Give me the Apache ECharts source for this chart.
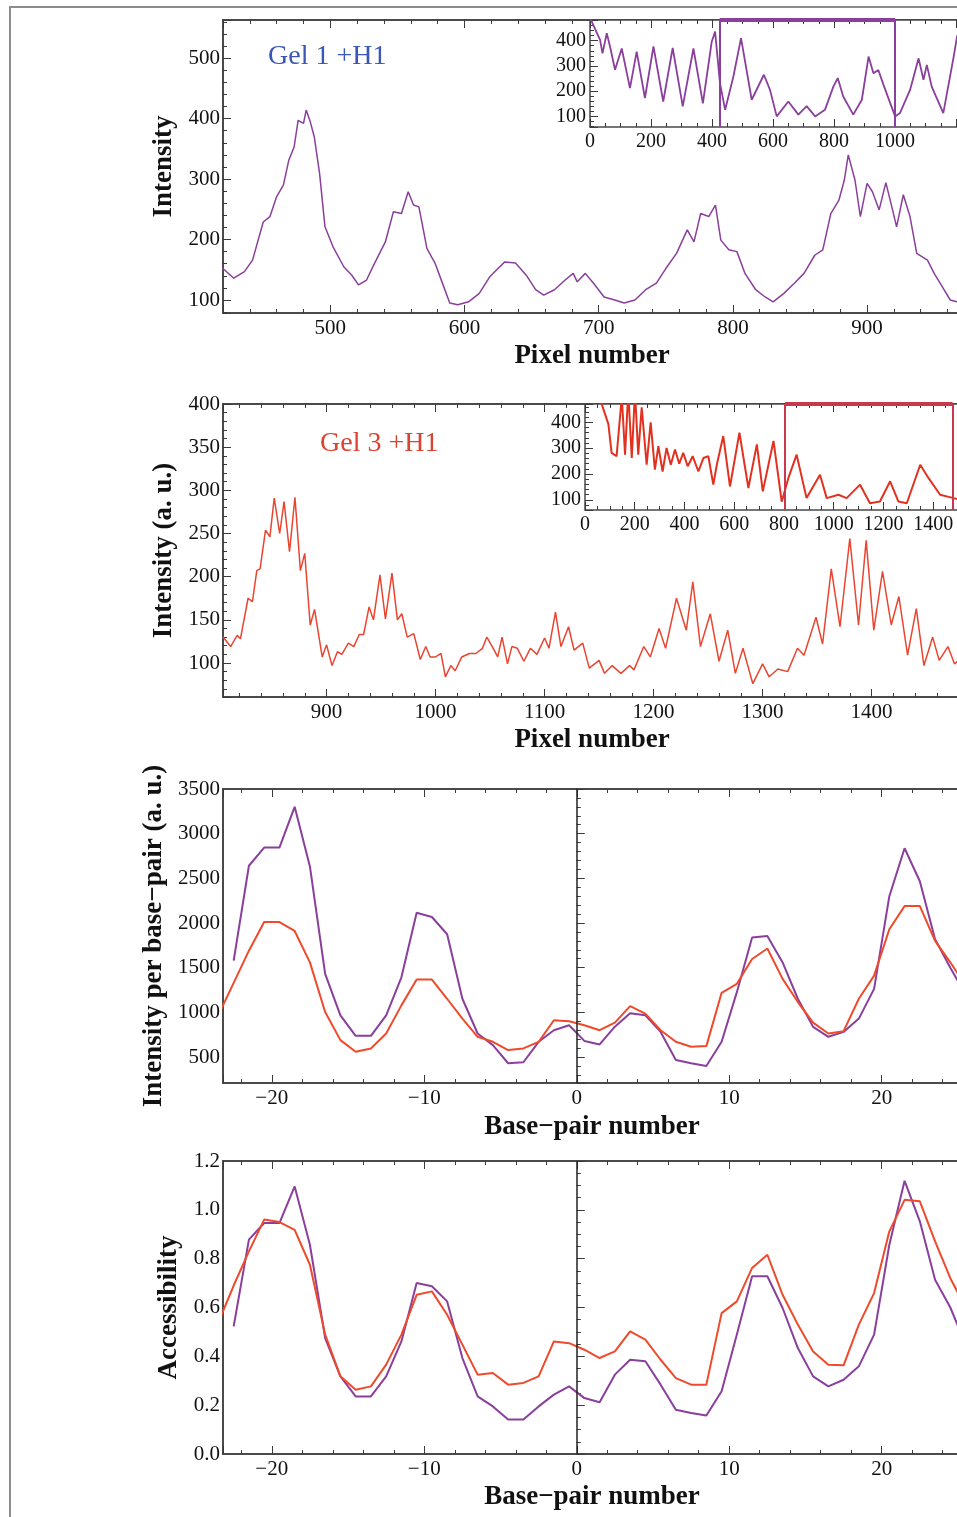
<!DOCTYPE html>
<html>
<head>
<meta charset="utf-8">
<script src="https://cdn.jsdelivr.net/npm/echarts@6/dist/echarts.min.js"></script>
<style>
html,body{margin:0;padding:0;background:#fff;}
#chart{width:957px;height:1517px;}
</style>
</head>
<body>
<div id="chart"></div>
<script>
// ---------- Data ----------
// Panel 1: Gel 1 +H1 (zoomed trace)
const gel1Px  = [418,421,428,436,442,450,455,460,465,469,473,476,480,482,485,488,492,496,502,510,516,521,527,533,541,547,553,558,562,566,572,578,584,589,595,603,611,619,624,630,638,646,653,659,667,675,681,684,690,696,704,712,719,727,735,743,750,758,766,771,776,782,787,791,797,803,809,817,824,830,838,846,853,861,867,873,879,883,886,891,895,900,904,909,914,919,922,927,932,937,945,950,956,962,967,975];
const gel1Int = [155,150,136,147,166,229,238,271,290,331,353,397,392,414,395,370,309,221,188,155,141,125,133,161,196,246,243,279,257,254,185,161,125,95,92,97,111,139,150,163,161,141,117,108,117,133,144,130,144,128,105,100,95,100,117,128,152,177,216,196,243,238,257,199,183,180,144,117,105,97,111,128,144,174,183,243,265,298,340,298,238,293,279,249,294,249,221,274,238,177,166,144,122,100,97,95];
// Panel 1 inset: full Gel 1 trace
const gel1AllPx  = [0,6,33,41,55,68,82,104,131,153,180,208,240,271,304,339,370,399,410,426,443,470,495,530,570,590,612,650,683,710,738,770,798,812,830,863,891,913,929,945,962,1000,1016,1049,1077,1093,1104,1120,1158,1191,1203,1220];
const gel1AllInt = [490,475,403,350,430,364,285,369,212,357,173,377,159,371,140,369,152,396,436,232,126,258,410,166,265,205,100,159,107,141,100,126,219,252,179,107,166,337,271,284,225,100,113,205,330,245,304,218,113,330,416,470];
const gel1Window = [425, 1000];

// Panel 2: Gel 3 +H1 (zoomed trace)
const gel3Px  = [805,812,818,821,828,832,836,839,844,848,852,857,861,866,871,876,880,885,889,896,900,905,910,914,920,925,930,934,939,943,949,954,960,965,969,974,980,986,991,995,1000,1005,1009,1014,1018,1024,1031,1037,1043,1047,1052,1057,1061,1066,1070,1075,1081,1087,1093,1100,1104,1110,1115,1122,1127,1135,1141,1150,1155,1162,1170,1178,1182,1191,1197,1205,1211,1221,1230,1236,1243,1252,1260,1268,1275,1282,1291,1300,1306,1314,1323,1332,1338,1349,1355,1363,1371,1380,1388,1395,1402,1410,1418,1425,1433,1441,1448,1456,1462,1470,1476,1486];
const gel3Int = [130,119,132,128,175,171,207,209,254,246,291,250,287,229,292,207,227,144,162,107,121,97,113,110,123,119,133,133,165,150,202,151,204,150,157,130,134,104,119,107,107,111,84,97,91,107,111,111,117,130,119,107,130,99,119,117,102,117,110,129,117,159,119,142,115,123,94,103,88,97,88,97,92,119,107,140,117,175,138,194,119,157,102,138,88,117,76,99,84,93,90,117,109,153,122,209,142,244,144,242,138,206,144,177,109,163,97,130,103,119,99,110];
// Panel 2 inset: full Gel 3 trace
const gel3AllPx  = [40,67,94,107,127,148,161,174,188,201,214,228,248,264,281,295,312,328,345,362,379,395,413,433,456,476,496,516,530,556,583,621,657,691,715,758,791,818,851,891,945,972,1019,1052,1106,1146,1186,1227,1260,1294,1348,1381,1428,1482,1512];
const gel3AllInt = [560,471,393,282,269,500,275,520,262,520,275,458,236,400,217,308,210,301,236,295,240,282,230,269,210,262,269,159,236,347,152,360,146,315,133,328,93,185,275,107,197,107,120,107,159,87,94,172,94,87,236,185,120,107,100];
const gel3Window = [805, 1478];

// Panels 3 and 4: per base-pair
const bpPurple = [-22.5,-21.5,-20.5,-19.5,-18.5,-17.5,-16.5,-15.5,-14.5,-13.5,-12.5,-11.5,-10.5,-9.5,-8.5,-7.5,-6.5,-5.5,-4.5,-3.5,-2.5,-1.5,-0.5,0.5,1.5,2.5,3.5,4.5,5.5,6.5,7.5,8.5,9.5,10.5,11.5,12.5,13.5,14.5,15.5,16.5,17.5,18.5,19.5,20.5,21.5,22.5,23.5,24.5,25.5];
const bpRed    = [-23.5,-22.5,-21.5,-20.5,-19.5,-18.5,-17.5,-16.5,-15.5,-14.5,-13.5,-12.5,-11.5,-10.5,-9.5,-8.5,-7.5,-6.5,-5.5,-4.5,-3.5,-2.5,-1.5,-0.5,0.5,1.5,2.5,3.5,4.5,5.5,6.5,7.5,8.5,9.5,10.5,11.5,12.5,13.5,14.5,15.5,16.5,17.5,18.5,19.5,20.5,21.5,22.5,23.5,24.5,25.5];
const perBpGel1 = [1578,2641,2844,2844,3300,2633,1430,967,737,737,967,1392,2114,2067,1874,1152,763,633,430,441,670,800,855,680,641,840,990,967,781,467,430,400,670,1226,1837,1855,1559,1152,837,726,781,930,1263,2300,2837,2467,1819,1500,1200];
const perBpGel3 = [970,1330,1690,2011,2011,1911,1559,1003,689,559,596,763,1078,1367,1367,1152,930,726,670,578,596,670,911,900,855,800,885,1070,985,800,670,615,622,1219,1319,1597,1715,1374,1115,885,763,789,1152,1411,1930,2189,2189,1800,1560,1300];
const accGel1 = [0.523,0.878,0.946,0.946,1.096,0.857,0.475,0.318,0.236,0.236,0.318,0.461,0.700,0.687,0.625,0.393,0.236,0.195,0.141,0.141,0.195,0.243,0.277,0.229,0.212,0.325,0.386,0.380,0.284,0.181,0.168,0.158,0.257,0.489,0.728,0.728,0.598,0.434,0.318,0.277,0.304,0.359,0.489,0.857,1.119,0.953,0.714,0.600,0.450];
const accGel3 = [0.54,0.69,0.83,0.96,0.95,0.918,0.775,0.489,0.318,0.263,0.277,0.366,0.489,0.652,0.666,0.570,0.448,0.325,0.332,0.284,0.291,0.318,0.461,0.454,0.427,0.393,0.420,0.502,0.468,0.386,0.311,0.284,0.284,0.577,0.625,0.762,0.816,0.652,0.530,0.420,0.366,0.363,0.530,0.659,0.912,1.041,1.035,0.871,0.720,0.600];

// ---------- Helpers ----------
const zip = (xs, ys) => xs.slice(0, Math.min(xs.length, ys.length)).map((x, i) => [x, ys[i]]);
const FONT = '"Liberation Serif", "Times New Roman", serif';
const AX = '#3a3a3a';
const PURPLE = '#8a3f9c';
const RED = '#ee4a2b';
const minus = v => (v < 0 ? '\u2212' + (-v) : String(v));

function tickCommon(step, minorSplit, z) {
  return {
    minInterval: step, maxInterval: step,
    axisLine: {show: false},
    splitLine: {show: false},
    axisTick: {show: true, inside: true, length: 8, lineStyle: {color: AX, width: 1}},
    minorTick: {show: true, splitNumber: minorSplit, length: 4, lineStyle: {color: AX, width: 1}},
    minorSplitLine: {show: false},
    z: z
  };
}
function xPair(gi, min, max, step, minorSplit, o) {
  o = o || {};
  const base = Object.assign({type: 'value', gridIndex: gi, min: min, max: max,
    splitNumber: Math.max(1, Math.round((max - min) / step))}, tickCommon(step, minorSplit, o.z || 0));
  const bottom = Object.assign({}, base, {
    position: 'bottom',
    axisLabel: {show: true, margin: o.margin || 5, fontFamily: FONT, fontSize: o.fs || 21, color: '#111',
      showMinLabel: !!o.showMin, showMaxLabel: !!o.showMax, formatter: o.fmt || (v => String(v))},
    name: o.name || '', nameLocation: 'middle', nameGap: o.nameGap || 30,
    nameTextStyle: {fontFamily: FONT, fontSize: 27, fontWeight: 'bold', color: '#111'}
  });
  const top = Object.assign({}, base, {position: 'top', axisLabel: {show: false}});
  return [bottom, top];
}
function yAx(gi, min, max, step, minorSplit, o) {
  o = o || {};
  return Object.assign({type: 'value', gridIndex: gi, min: min, max: max, position: 'left',
    splitNumber: Math.max(1, Math.round((max - min) / step)),
    axisLabel: {show: true, margin: o.margin || 3, fontFamily: FONT, fontSize: o.fs || 21, color: '#111',
      showMinLabel: !!o.showMin, showMaxLabel: !!o.showMax, formatter: o.fmt || (v => String(v))},
    name: o.name || '', nameLocation: 'middle', nameGap: o.nameGap || 40,
    nameTextStyle: {fontFamily: FONT, fontSize: 27, fontWeight: 'bold', color: '#111'}
  }, tickCommon(step, minorSplit, o.z || 0));
}
const mainGrid = (top, h) => ({left: 223, top: top, width: 738, height: h, show: true,
  borderColor: '#4a4a4a', borderWidth: 2, backgroundColor: 'transparent',
  containLabel: false, outerBoundsMode: 'none'});
const insetGrid = (left, top, h) => ({left: left, top: top, width: 961 - left, height: h, show: true,
  borderColor: '#4a4a4a', borderWidth: 1.5, backgroundColor: '#ffffff', z: 10,
  containLabel: false, outerBoundsMode: 'none'});

const grids = [
  mainGrid(20, 293),
  insetGrid(590, 20, 107),
  mainGrid(404, 293),
  insetGrid(585, 404, 106),
  mainGrid(789, 294),
  mainGrid(1161, 293)
];

const gel1InsetY = [58, 482];
const gel3InsetY = [61, 471];

const xAxes = [].concat(
  xPair(0, 420, 970, 100, 5, {name: 'Pixel number', nameGap: 30}),
  xPair(1, 0, 1216, 200, 4, {z: 11, showMin: true, fs: 20, fmt: v => (v > 1100 ? '' : String(v))}),
  xPair(2, 805, 1482, 100, 5, {name: 'Pixel number', nameGap: 30}),
  xPair(3, 0, 1512, 200, 4, {z: 11, showMin: true, fs: 20}),
  xPair(4, -23.2, 25.2, 10, 5, {name: 'Base\u2212pair number', nameGap: 31, fmt: minus}),
  xPair(5, -23.2, 25.2, 10, 5, {name: 'Base\u2212pair number', nameGap: 30, fmt: minus})
);
const yAxes = [
  yAx(0, 78.5, 563, 100, 5, {name: 'Intensity', nameGap: 37}),
  yAx(1, gel1InsetY[0], gel1InsetY[1], 100, 5, {z: 11, fs: 20, margin: 4}),
  yAx(2, 60.6, 400, 50, 5, {name: 'Intensity (a. u.)', nameGap: 38, showMax: true}),
  yAx(3, gel3InsetY[0], gel3InsetY[1], 100, 5, {z: 11, fs: 20, margin: 4}),
  yAx(4, 209, 3500, 500, 5, {name: 'Intensity per base\u2212pair (a. u.)', nameGap: 44, showMax: true}),
  yAx(5, 0, 1.2, 0.2, 4, {name: 'Accessibility', nameGap: 27, showMin: true, showMax: true, fmt: v => v.toFixed(1)})
];

const lineBase = {type: 'line', showSymbol: false, symbol: 'none', animation: false, clip: true};
const zeroLine = {silent: true, symbol: ['none', 'none'], label: {show: false},
  lineStyle: {color: '#222', width: 1.5, type: 'solid'}, data: [{xAxis: 0}]};
const windowMarks = (win, yr, color) => ({
  silent: true, z: 13, symbol: ['none', 'none'], label: {show: false},
  lineStyle: {color: color, width: 2, type: 'solid'},
  data: [
    {xAxis: win[0]},
    {xAxis: win[1]},
    [{coord: [win[0], yr[1]], lineStyle: {width: 4, color: color}}, {coord: [win[1], yr[1]]}]
  ]
});

const series = [
  Object.assign({}, lineBase, {name: 'Gel 1 +H1', xAxisIndex: 0, yAxisIndex: 0, z: 2,
    data: zip(gel1Px, gel1Int), lineStyle: {color: PURPLE, width: 1.5}}),
  Object.assign({}, lineBase, {name: 'Gel 1 full', xAxisIndex: 2, yAxisIndex: 1, z: 12,
    data: zip(gel1AllPx, gel1AllInt), lineStyle: {color: PURPLE, width: 1.8},
    markLine: windowMarks(gel1Window, gel1InsetY, PURPLE)}),
  Object.assign({}, lineBase, {name: 'Gel 3 +H1', xAxisIndex: 4, yAxisIndex: 2, z: 2,
    data: zip(gel3Px, gel3Int), lineStyle: {color: '#ea4530', width: 1.5}}),
  Object.assign({}, lineBase, {name: 'Gel 3 full', xAxisIndex: 6, yAxisIndex: 3, z: 12,
    data: zip(gel3AllPx, gel3AllInt), lineStyle: {color: '#e2321f', width: 2},
    markLine: windowMarks(gel3Window, gel3InsetY, '#c8394e')}),
  Object.assign({}, lineBase, {name: 'Gel 1 per bp', xAxisIndex: 8, yAxisIndex: 4, z: 2,
    data: zip(bpPurple, perBpGel1), lineStyle: {color: PURPLE, width: 2}, markLine: zeroLine}),
  Object.assign({}, lineBase, {name: 'Gel 3 per bp', xAxisIndex: 8, yAxisIndex: 4, z: 3,
    data: zip(bpRed, perBpGel3), lineStyle: {color: RED, width: 2}}),
  Object.assign({}, lineBase, {name: 'Gel 1 accessibility', xAxisIndex: 10, yAxisIndex: 5, z: 2,
    data: zip(bpPurple, accGel1), lineStyle: {color: PURPLE, width: 2}, markLine: zeroLine}),
  Object.assign({}, lineBase, {name: 'Gel 3 accessibility', xAxisIndex: 10, yAxisIndex: 5, z: 3,
    data: zip(bpRed, accGel3), lineStyle: {color: RED, width: 2}})
];

const chart = echarts.init(document.getElementById('chart'), null, {renderer: 'canvas', width: 957, height: 1517});
chart.setOption({
  backgroundColor: '#ffffff',
  animation: false,
  grid: grids,
  xAxis: xAxes,
  yAxis: yAxes,
  series: series,
  graphic: [
    {type: 'rect', silent: true, z: -10, shape: {x: 10, y: 7, width: 1000, height: 1540},
      style: {fill: 'none', stroke: '#8c8c8c', lineWidth: 2}},
    {type: 'text', left: 268, top: 43, z: 20, silent: true,
      style: {text: 'Gel 1 +H1', fill: '#3b56b5', font: '28px "Liberation Serif", serif'}},
    {type: 'text', left: 320, top: 430, z: 20, silent: true,
      style: {text: 'Gel 3 +H1', fill: '#d9432f', font: '28px "Liberation Serif", serif'}}
  ]
});
</script>
</body>
</html>
